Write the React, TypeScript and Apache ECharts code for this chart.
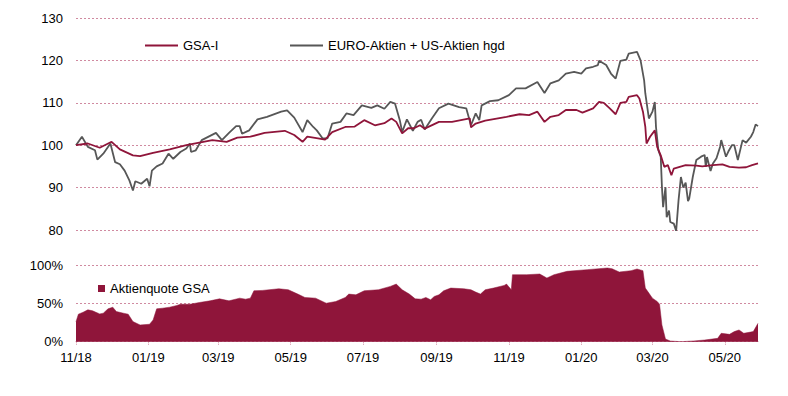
import React, { useEffect, useRef } from "react";
import * as echarts from "echarts";

const gsaI: [string, number][] = [
  ['2018-11-01',100],['2018-11-11',100.4],['2018-11-21',99.4],['2018-12-01',100.8],['2018-12-08',99.0],['2018-12-19',97.6],['2018-12-25',97.4],['2019-01-05',98.2],['2019-01-19',99.0],['2019-02-02',100.0],['2019-02-13',100.6],['2019-02-24',101.2],['2019-03-08',100.8],['2019-03-17',101.8],['2019-03-28',102.0],['2019-04-09',102.9],['2019-04-26',103.4],['2019-05-04',102.4],['2019-05-11',100.8],['2019-05-15',102.0],['2019-05-24',101.6],['2019-05-30',101.3],['2019-06-05',103.1],['2019-06-16',104.3],['2019-06-24',104.4],['2019-07-02',105.9],['2019-07-11',104.7],['2019-07-19',105.2],['2019-07-25',106.3],['2019-07-29',105.5],['2019-08-03',102.8],['2019-08-08',104.0],['2019-08-13',104.0],['2019-08-18',104.7],['2019-08-22',103.9],['2019-09-03',105.5],['2019-09-14',105.5],['2019-09-29',106.3],['2019-09-30',104.2],['2019-10-04',105.1],['2019-10-12',105.8],['2019-10-30',106.7],['2019-11-10',107.3],['2019-11-18',107.1],['2019-11-25',107.9],['2019-12-01',105.5],['2019-12-06',106.7],['2019-12-13',107.1],['2019-12-19',108.3],['2019-12-28',108.3],['2020-01-02',107.7],['2020-01-11',108.7],['2020-01-16',110.2],['2020-01-20',110.0],['2020-01-25',108.7],['2020-01-30',107.3],['2020-02-03',110.0],['2020-02-08',110.2],['2020-02-10',111.4],['2020-02-17',111.8],['2020-02-19',111.0],['2020-02-22',107.9],['2020-02-24',104.3],['2020-02-25',100.4],['2020-02-28',102.0],['2020-03-03',103.5],['2020-03-05',99.6],['2020-03-08',97.6],['2020-03-11',94.9],['2020-03-14',95.3],['2020-03-17',92.9],['2020-03-19',94.5],['2020-03-24',94.9],['2020-03-29',95.3],['2020-04-07',95.2],['2020-04-12',95.0],['2020-04-21',95.3],['2020-04-29',95.5],['2020-05-05',94.9],['2020-05-13',94.7],['2020-05-19',94.8],['2020-05-24',95.3],['2020-05-29',95.7]
];

const euroUs: [string, number][] = [
  ['2018-11-01',100],['2018-11-06',102],['2018-11-11',99.6],['2018-11-17',98.8],['2018-11-19',96.6],['2018-11-24',98],['2018-11-30',100.4],['2018-12-04',96],['2018-12-08',95.5],['2018-12-12',94],['2018-12-16',91.7],['2018-12-19',89.3],['2018-12-21',91.5],['2018-12-26',90.9],['2018-12-31',92.1],['2019-01-02',90.3],['2019-01-04',94],['2019-01-08',95],['2019-01-13',95.7],['2019-01-18',98],['2019-01-22',96.8],['2019-01-28',98.4],['2019-02-02',99.2],['2019-02-05',100.4],['2019-02-06',98.4],['2019-02-10',98.8],['2019-02-15',101.2],['2019-02-27',102.9],['2019-03-04',101.2],['2019-03-10',102.9],['2019-03-16',104.5],['2019-03-19',104.5],['2019-03-21',102.7],['2019-03-27',103.5],['2019-04-03',106.1],['2019-04-11',106.7],['2019-04-23',107.9],['2019-04-28',108.2],['2019-05-04',106.5],['2019-05-11',103.1],['2019-05-15',105.9],['2019-05-20',104.3],['2019-05-23',103.5],['2019-05-28',101.6],['2019-06-01',101.6],['2019-06-05',105.1],['2019-06-12',105.5],['2019-06-17',107.5],['2019-06-23',107.1],['2019-06-30',109.4],['2019-07-08',108.8],['2019-07-13',109.4],['2019-07-19',108.6],['2019-07-24',110.2],['2019-07-28',109.8],['2019-08-01',105.9],['2019-08-03',103.1],['2019-08-07',106.1],['2019-08-12',103.4],['2019-08-16',105.5],['2019-08-19',106],['2019-08-22',103.7],['2019-08-28',106.3],['2019-09-03',108.7],['2019-09-11',109.8],['2019-09-20',109],['2019-09-26',108.7],['2019-09-30',104.7],['2019-10-04',107.5],['2019-10-07',105.9],['2019-10-09',109.4],['2019-10-16',110.4],['2019-10-23',110.6],['2019-11-01',111.8],['2019-11-07',113.4],['2019-11-15',113.4],['2019-11-25',114.9],['2019-12-01',112.3],['2019-12-06',114.6],['2019-12-13',115.3],['2019-12-19',116.9],['2019-12-26',117.3],['2020-01-01',116.9],['2020-01-05',118.1],['2020-01-11',118.5],['2020-01-15',118.9],['2020-01-16',119.9],['2020-01-22',118.9],['2020-01-26',116.9],['2020-01-30',115.7],['2020-02-03',119.9],['2020-02-08',120.2],['2020-02-10',121.6],['2020-02-17',122],['2020-02-20',120],['2020-02-23',115.3],['2020-02-24',112.2],['2020-02-27',106.3],['2020-03-01',107.9],['2020-03-03',110.2],['2020-03-04',104.3],['2020-03-06',98.8],['2020-03-08',97.2],['2020-03-09',90.2],['2020-03-10',85.4],['2020-03-12',90.1],['2020-03-13',83],['2020-03-15',84.6],['2020-03-16',81.9],['2020-03-19',81.5],['2020-03-21',79.8],['2020-03-23',87],['2020-03-25',92.5],['2020-03-27',90],['2020-03-29',91.2],['2020-03-31',86.8],['2020-04-01',87.4],['2020-04-04',92.5],['2020-04-07',96.5],['2020-04-11',97.3],['2020-04-14',97.7],['2020-04-15',94.9],['2020-04-16',97.2],['2020-04-19',93.9],['2020-04-21',95.7],['2020-04-24',96.9],['2020-04-27',99.6],['2020-04-28',101.2],['2020-05-02',97.3],['2020-05-04',98.5],['2020-05-07',100],['2020-05-09',100],['2020-05-12',96.5],['2020-05-16',101.2],['2020-05-19',100.6],['2020-05-23',102],['2020-05-25',103.1],['2020-05-27',104.9],['2020-05-29',104.5]
];

const aktienquote: [string, number][] = [
  ['2018-11-01',26],['2018-11-03',36],['2018-11-07',38.6],['2018-11-11',41.7],['2018-11-15',40.4],['2018-11-21',36.4],['2018-11-24',37.3],['2018-11-28',43],['2018-12-02',45.2],['2018-12-05',39.5],['2018-12-11',37.3],['2018-12-15',36],['2018-12-19',26.3],['2018-12-25',21.9],['2019-01-02',22.8],['2019-01-05',28.5],['2019-01-08',43],['2019-01-13',43.9],['2019-01-19',45.2],['2019-01-25',47.4],['2019-01-28',49],['2019-02-05',49],['2019-02-13',51.3],['2019-02-22',53.5],['2019-03-02',56.1],['2019-03-10',53.5],['2019-03-19',57],['2019-03-24',55.7],['2019-03-28',57],['2019-03-31',66.7],['2019-04-07',67.1],['2019-04-21',69.3],['2019-04-29',68],['2019-05-07',62.3],['2019-05-13',57.9],['2019-05-22',57],['2019-05-31',50.4],['2019-06-08',52.6],['2019-06-16',57.9],['2019-06-19',62.3],['2019-06-25',61.4],['2019-07-02',66.7],['2019-07-14',68],['2019-07-24',72.4],['2019-07-29',75.4],['2019-08-03',68],['2019-08-09',62.3],['2019-08-14',56.1],['2019-08-19',55.7],['2019-08-23',57.9],['2019-08-27',54.8],['2019-08-30',59.2],['2019-09-03',61.4],['2019-09-07',66.7],['2019-09-13',70.2],['2019-09-24',69.3],['2019-09-30',68],['2019-10-04',64.9],['2019-10-08',62.3],['2019-10-12',68],['2019-10-19',70.2],['2019-10-28',73.7],['2019-10-30',75.4],['2019-11-03',68],['2019-11-04',87.7],['2019-11-16',87.7],['2019-11-27',88.6],['2019-12-03',83.3],['2019-12-09',87.7],['2019-12-20',92.1],['2020-01-06',94.3],['2020-01-23',96.5],['2020-01-27',95.5],['2020-02-02',91.2],['2020-02-12',93],['2020-02-17',95.2],['2020-02-22',93],['2020-02-24',70.2],['2020-02-27',63.6],['2020-03-01',57],['2020-03-05',52.6],['2020-03-07',49.1],['2020-03-09',21.9],['2020-03-12',3.5],['2020-03-16',0.9],['2020-03-25',0],['2020-04-05',1],['2020-04-14',2.2],['2020-04-25',4.4],['2020-04-28',11],['2020-05-05',9.6],['2020-05-09',13.2],['2020-05-13',15.4],['2020-05-17',11],['2020-05-25',13.2],['2020-05-29',24]
];

// tick labels: first day of every second month
const tickDates: string[] = [
  '2018-11-01', '2019-01-01', '2019-03-01', '2019-05-01', '2019-07-01',
  '2019-09-01', '2019-11-01', '2020-01-01', '2020-03-01', '2020-05-01'
];
const axisStart = '2018-11-01';
const axisEnd = '2020-05-29';

const CRIMSON = "#8f153a";
const GREY = "#575757";
const GRIDPINK = "#d08aa0";
const FONT = "Liberation Sans, Arial, sans-serif";

const ts = (d: string) => Date.parse(d + "T00:00:00Z");
const toXY = (arr: [string, number][]) => arr.map(([d, v]) => [ts(d), v]);

export default function App() {
  const ref = useRef<HTMLDivElement>(null);
  useEffect(() => {
    if (!ref.current) return;
    const chart = echarts.init(ref.current, null, { renderer: "svg" });
    const ticks = tickDates.map(ts);
    const pad = (n: number) => (n < 10 ? "0" + n : "" + n);
    const fmt = (v: number) => {
      const d = new Date(v);
      return pad(d.getUTCMonth() + 1) + "/" + pad(d.getUTCFullYear() % 100);
    };
    chart.setOption({
      animation: false,
      backgroundColor: "#fff",
      textStyle: { fontFamily: FONT },
      grid: [
        { left: 76, right: 30, top: 18, height: 212 },
        { left: 76, right: 30, top: 265.3, height: 76.4 }
      ],
      legend: [
        {
          data: ["GSA-I"], left: 140, top: 34, icon: "rect", itemWidth: 33, itemHeight: 2,
          textStyle: { fontSize: 13, color: "#000", fontFamily: FONT }, selectedMode: false
        },
        {
          data: ["EURO-Aktien + US-Aktien hgd"], left: 285, top: 34, icon: "rect", itemWidth: 33, itemHeight: 2,
          textStyle: { fontSize: 13, color: "#000", fontFamily: FONT }, selectedMode: false
        },
        {
          data: ["Aktienquote GSA"], left: 93, top: 277, icon: "rect", itemWidth: 7, itemHeight: 7,
          textStyle: { fontSize: 13, color: "#000", fontFamily: FONT }, selectedMode: false
        }
      ],
      xAxis: [
        {
          type: "value", gridIndex: 0, min: ts(axisStart), max: ts(axisEnd),
          axisLine: { show: false }, axisTick: { show: false }, axisLabel: { show: false }, splitLine: { show: false }
        },
        {
          type: "value", gridIndex: 1, min: ts(axisStart), max: ts(axisEnd),
          axisLine: { show: true, onZero: false, lineStyle: { color: GRIDPINK, width: 1, type: [2, 2] } },
          axisTick: { show: true, length: 4, customValues: ticks, lineStyle: { color: GRIDPINK, type: [1, 1] } },
          axisLabel: {
            show: true, customValues: ticks, formatter: (v: number) => fmt(v),
            fontSize: 13, color: "#000", margin: 9, fontFamily: FONT, hideOverlap: false
          },
          splitLine: { show: false }
        }
      ],
      yAxis: [
        {
          type: "value", gridIndex: 0, min: 80, max: 130, interval: 10,
          axisLine: { show: false }, axisTick: { show: false },
          axisLabel: { fontSize: 13, color: "#000", margin: 13, fontFamily: FONT },
          splitLine: { show: true, lineStyle: { color: GRIDPINK, width: 1, type: [2, 2] } }
        },
        {
          type: "value", gridIndex: 1, min: 0, max: 100, interval: 50,
          axisLine: { show: false }, axisTick: { show: false },
          axisLabel: { fontSize: 13, color: "#000", margin: 13, formatter: "{value}%", fontFamily: FONT },
          splitLine: { show: true, lineStyle: { color: GRIDPINK, width: 1, type: [2, 2] } }
        }
      ],
      series: [
        {
          name: "Aktienquote GSA", type: "line", xAxisIndex: 1, yAxisIndex: 1, data: toXY(aktienquote),
          symbol: "none", lineStyle: { width: 0.5, color: CRIMSON }, itemStyle: { color: CRIMSON },
          areaStyle: { color: CRIMSON, opacity: 1 }, z: 1
        },
        {
          name: "EURO-Aktien + US-Aktien hgd", type: "line", xAxisIndex: 0, yAxisIndex: 0, data: toXY(euroUs),
          symbol: "none", lineStyle: { width: 1.8, color: GREY }, itemStyle: { color: GREY }, z: 2
        },
        {
          name: "GSA-I", type: "line", xAxisIndex: 0, yAxisIndex: 0, data: toXY(gsaI),
          symbol: "none", lineStyle: { width: 1.8, color: CRIMSON }, itemStyle: { color: CRIMSON }, z: 3
        }
      ]
    });
    return () => chart.dispose();
  }, []);
  return <div ref={ref} style={{ width: 788, height: 396, position: "absolute", left: 0, top: 0 }} />;
}
